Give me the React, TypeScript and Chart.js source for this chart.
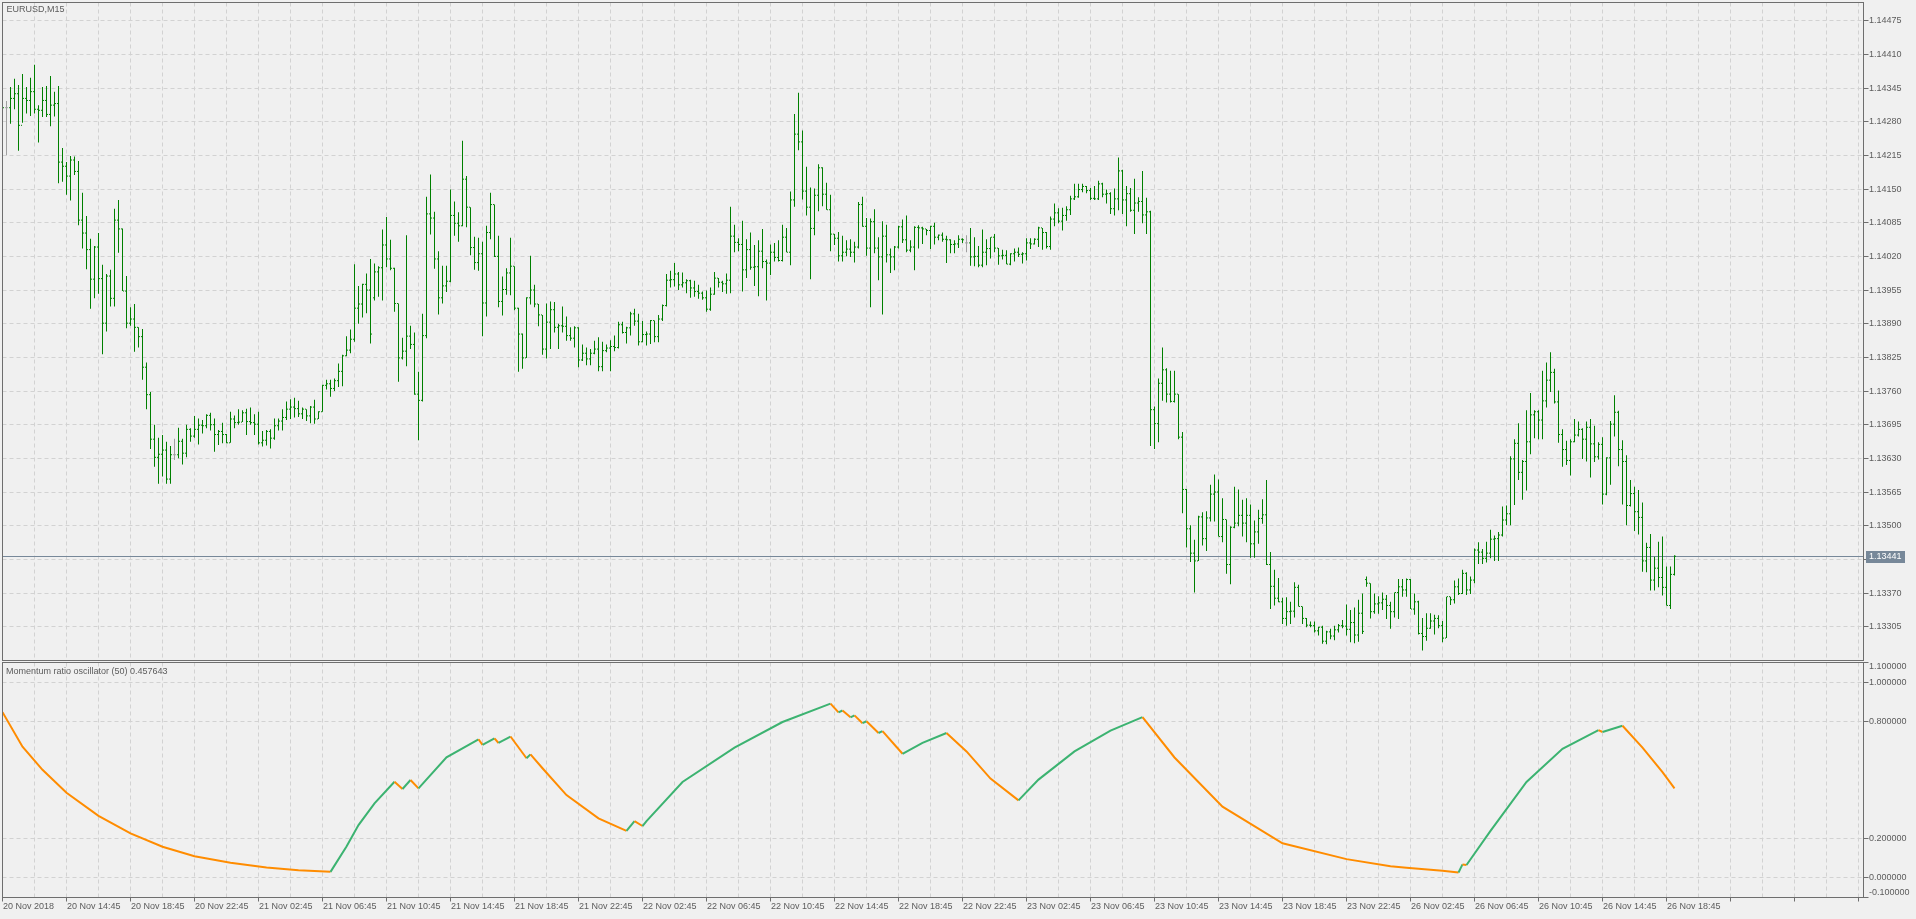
import React, { useEffect, useRef } from "react";
import { Chart, registerables } from "chart.js";

Chart.register(...registerables);

// ---------------- data ----------------
const symbolTitle = "EURUSD,M15";
const oscillatorName = "Momentum ratio oscillator (50)";

const barOpen = [
  1.14296, 1.14307, 1.14307, 1.14325, 1.14334, 1.14273, 1.14325, 1.14321, 1.14338, 1.14304,
  1.14302, 1.14321, 1.14294, 1.14312, 1.14315, 1.14202, 1.14194, 1.14175, 1.14206, 1.14184,
  1.14090, 1.14065, 1.14033, 1.13976, 1.14038, 1.13977, 1.13891, 1.13982, 1.13939, 1.14090,
  1.14073, 1.13953, 1.13891, 1.13899, 1.13883, 1.13865, 1.13806, 1.13753, 1.13667, 1.13632,
  1.13638, 1.13646, 1.13590, 1.13637, 1.13637, 1.13663, 1.13640, 1.13686, 1.13673, 1.13686,
  1.13694, 1.13693, 1.13713, 1.13695, 1.13676, 1.13682, 1.13676, 1.13660, 1.13706, 1.13699,
  1.13700, 1.13718, 1.13701, 1.13699, 1.13696, 1.13660, 1.13665, 1.13682, 1.13669, 1.13693,
  1.13702, 1.13709, 1.13725, 1.13729, 1.13726, 1.13716, 1.13725, 1.13712, 1.13729, 1.13706,
  1.13720, 1.13771, 1.13774, 1.13765, 1.13780, 1.13798, 1.13828, 1.13839, 1.13860, 1.13920,
  1.13928, 1.13966, 1.13955, 1.13940, 1.13990, 1.13998, 1.14042, 1.14015, 1.13997, 1.13929,
  1.13824, 1.13837, 1.13866, 1.13850, 1.13754, 1.13742, 1.13867, 1.14102, 1.14094, 1.14015,
  1.13940, 1.13963, 1.13972, 1.14099, 1.14084, 1.14079, 1.14169, 1.14115, 1.14037, 1.14008,
  1.14025, 1.13930, 1.14066, 1.14120, 1.14020, 1.13933, 1.13956, 1.13988, 1.14001, 1.13920,
  1.13870, 1.13824, 1.13940, 1.13955, 1.13928, 1.13907, 1.13841, 1.13893, 1.13917, 1.13883,
  1.13886, 1.13885, 1.13867, 1.13862, 1.13882, 1.13820, 1.13833, 1.13822, 1.13833, 1.13841,
  1.13807, 1.13838, 1.13843, 1.13846, 1.13844, 1.13888, 1.13873, 1.13882, 1.13909, 1.13895,
  1.13855, 1.13869, 1.13870, 1.13896, 1.13865, 1.13899, 1.13925, 1.13974, 1.13975, 1.13986,
  1.13965, 1.13969, 1.13973, 1.13959, 1.13952, 1.13949, 1.13940, 1.13918, 1.13947, 1.13978,
  1.13970, 1.13967, 1.13974, 1.14059, 1.14047, 1.14043, 1.13994, 1.14033, 1.13999, 1.14000,
  1.14030, 1.14010, 1.14007, 1.14028, 1.14018, 1.14012, 1.14057, 1.14028, 1.14129, 1.14256,
  1.14241, 1.14146, 1.14115, 1.14074, 1.14138, 1.14191, 1.14140, 1.14110, 1.14063, 1.14055,
  1.14021, 1.14028, 1.14034, 1.14028, 1.14038, 1.14120, 1.14078, 1.14036, 1.14087, 1.14036,
  1.14019, 1.14059, 1.14023, 1.14019, 1.14038, 1.14077, 1.14052, 1.14032, 1.14038, 1.14076,
  1.14075, 1.14073, 1.14070, 1.14078, 1.14057, 1.14061, 1.14053, 1.14052, 1.14043, 1.14044,
  1.14053, 1.14046, 1.14046, 1.14019, 1.14020, 1.14003, 1.14028, 1.14035, 1.14057, 1.14036,
  1.14021, 1.14022, 1.14005, 1.14025, 1.14028, 1.14024, 1.14025, 1.14046, 1.14044, 1.14053,
  1.14075, 1.14066, 1.14039, 1.14092, 1.14104, 1.14088, 1.14099, 1.14110, 1.14131, 1.14135,
  1.14149, 1.14155, 1.14147, 1.14132, 1.14131, 1.14160, 1.14140, 1.14141, 1.14112, 1.14131,
  1.14185, 1.14129, 1.14141, 1.14109, 1.14123, 1.14126, 1.14100, 1.14106, 1.13724, 1.13697,
  1.13775, 1.13801, 1.13754, 1.13740, 1.13754, 1.13671, 1.13570, 1.13494, 1.13447, 1.13432,
  1.13517, 1.13475, 1.13515, 1.13561, 1.13565, 1.13479, 1.13512, 1.13425, 1.13497, 1.13505,
  1.13520, 1.13505, 1.13520, 1.13465, 1.13488, 1.13514, 1.13521, 1.13425, 1.13383, 1.13360,
  1.13353, 1.13321, 1.13334, 1.13335, 1.13381, 1.13344, 1.13321, 1.13308, 1.13307, 1.13297,
  1.13304, 1.13277, 1.13295, 1.13287, 1.13299, 1.13307, 1.13306, 1.13300, 1.13313, 1.13289,
  1.13331, 1.13396, 1.13389, 1.13334, 1.13349, 1.13351, 1.13358, 1.13346, 1.13334, 1.13371,
  1.13382, 1.13376, 1.13396, 1.13339, 1.13353, 1.13292, 1.13286, 1.13302, 1.13316, 1.13321,
  1.13307, 1.13283, 1.13363, 1.13357, 1.13382, 1.13369, 1.13408, 1.13376, 1.13395, 1.13453,
  1.13449, 1.13437, 1.13447, 1.13474, 1.13475, 1.13482, 1.13511, 1.13523, 1.13629, 1.13659,
  1.13603, 1.13624, 1.13662, 1.13714, 1.13720, 1.13704, 1.13741, 1.13781, 1.13796, 1.13739,
  1.13676, 1.13647, 1.13626, 1.13662, 1.13675, 1.13686, 1.13667, 1.13690, 1.13658, 1.13633,
  1.13657, 1.13561, 1.13631, 1.13696, 1.13719, 1.13647, 1.13624, 1.13539, 1.13562, 1.13527,
  1.13516, 1.13432, 1.13458, 1.13395, 1.13418, 1.13400, 1.13381, 1.13346, 1.13406,
];

const barHigh = [
  1.14318, 1.14320, 1.14347, 1.14363, 1.14351, 1.14372, 1.14347, 1.14365, 1.14390, 1.14312,
  1.14347, 1.14349, 1.14368, 1.14338, 1.14349, 1.14229, 1.14202, 1.14214, 1.14213, 1.14204,
  1.14143, 1.14098, 1.14054, 1.14040, 1.14065, 1.14004, 1.13986, 1.13994, 1.14112, 1.14129,
  1.14074, 1.13982, 1.13922, 1.13928, 1.13883, 1.13880, 1.13815, 1.13758, 1.13695, 1.13670,
  1.13675, 1.13662, 1.13654, 1.13668, 1.13689, 1.13668, 1.13695, 1.13688, 1.13712, 1.13707,
  1.13704, 1.13715, 1.13718, 1.13707, 1.13685, 1.13699, 1.13677, 1.13720, 1.13713, 1.13725,
  1.13723, 1.13726, 1.13728, 1.13715, 1.13720, 1.13683, 1.13685, 1.13686, 1.13707, 1.13707,
  1.13725, 1.13740, 1.13744, 1.13747, 1.13741, 1.13728, 1.13725, 1.13731, 1.13743, 1.13721,
  1.13772, 1.13782, 1.13782, 1.13784, 1.13813, 1.13830, 1.13866, 1.13879, 1.14005, 1.13963,
  1.13967, 1.13987, 1.14015, 1.14006, 1.14001, 1.14072, 1.14096, 1.14052, 1.13998, 1.13929,
  1.13863, 1.14061, 1.13886, 1.13873, 1.13797, 1.13909, 1.14135, 1.14178, 1.14106, 1.14030,
  1.14002, 1.14002, 1.14149, 1.14126, 1.14105, 1.14243, 1.14175, 1.14115, 1.14058, 1.14056,
  1.14048, 1.14079, 1.14143, 1.14120, 1.14060, 1.13981, 1.13997, 1.14056, 1.14001, 1.13921,
  1.13871, 1.13941, 1.14021, 1.13965, 1.13928, 1.13907, 1.13929, 1.13933, 1.13932, 1.13890,
  1.13923, 1.13904, 1.13883, 1.13885, 1.13883, 1.13850, 1.13844, 1.13841, 1.13857, 1.13864,
  1.13855, 1.13850, 1.13858, 1.13867, 1.13894, 1.13894, 1.13884, 1.13913, 1.13919, 1.13909,
  1.13895, 1.13875, 1.13897, 1.13896, 1.13907, 1.13927, 1.13986, 1.13992, 1.14007, 1.13990,
  1.13989, 1.13976, 1.13975, 1.13973, 1.13965, 1.13952, 1.13954, 1.13960, 1.13990, 1.13978,
  1.13973, 1.13987, 1.14116, 1.14081, 1.14055, 1.14089, 1.14053, 1.14066, 1.14042, 1.14051,
  1.14073, 1.14014, 1.14043, 1.14046, 1.14051, 1.14081, 1.14075, 1.14145, 1.14295, 1.14336,
  1.14263, 1.14193, 1.14153, 1.14151, 1.14198, 1.14192, 1.14162, 1.14139, 1.14063, 1.14067,
  1.14060, 1.14051, 1.14053, 1.14048, 1.14125, 1.14135, 1.14094, 1.14093, 1.14111, 1.14057,
  1.14088, 1.14081, 1.14035, 1.14040, 1.14079, 1.14091, 1.14099, 1.14051, 1.14078, 1.14080,
  1.14077, 1.14073, 1.14079, 1.14085, 1.14062, 1.14066, 1.14060, 1.14053, 1.14051, 1.14061,
  1.14055, 1.14061, 1.14075, 1.14057, 1.14040, 1.14072, 1.14053, 1.14057, 1.14063, 1.14036,
  1.14033, 1.14032, 1.14026, 1.14035, 1.14037, 1.14028, 1.14055, 1.14055, 1.14055, 1.14077,
  1.14075, 1.14067, 1.14097, 1.14122, 1.14113, 1.14114, 1.14117, 1.14137, 1.14160, 1.14160,
  1.14160, 1.14156, 1.14152, 1.14156, 1.14166, 1.14162, 1.14149, 1.14144, 1.14151, 1.14211,
  1.14187, 1.14156, 1.14152, 1.14170, 1.14134, 1.14185, 1.14133, 1.14108, 1.13730, 1.13784,
  1.13844, 1.13804, 1.13799, 1.13799, 1.13754, 1.13681, 1.13571, 1.13501, 1.13473, 1.13519,
  1.13526, 1.13528, 1.13579, 1.13599, 1.13589, 1.13553, 1.13512, 1.13499, 1.13575, 1.13570,
  1.13550, 1.13553, 1.13541, 1.13510, 1.13531, 1.13551, 1.13588, 1.13449, 1.13415, 1.13399,
  1.13361, 1.13362, 1.13353, 1.13391, 1.13386, 1.13344, 1.13322, 1.13315, 1.13315, 1.13305,
  1.13307, 1.13297, 1.13301, 1.13307, 1.13310, 1.13318, 1.13348, 1.13337, 1.13342, 1.13357,
  1.13369, 1.13402, 1.13389, 1.13369, 1.13364, 1.13371, 1.13366, 1.13353, 1.13371, 1.13397,
  1.13397, 1.13398, 1.13397, 1.13369, 1.13355, 1.13322, 1.13331, 1.13331, 1.13328, 1.13327,
  1.13316, 1.13363, 1.13363, 1.13394, 1.13398, 1.13415, 1.13410, 1.13402, 1.13456, 1.13468,
  1.13455, 1.13469, 1.13492, 1.13481, 1.13488, 1.13537, 1.13539, 1.13634, 1.13667, 1.13698,
  1.13627, 1.13723, 1.13756, 1.13723, 1.13723, 1.13799, 1.13815, 1.13835, 1.13803, 1.13761,
  1.13686, 1.13664, 1.13667, 1.13706, 1.13701, 1.13688, 1.13701, 1.13706, 1.13693, 1.13661,
  1.13671, 1.13632, 1.13702, 1.13752, 1.13722, 1.13665, 1.13636, 1.13588, 1.13575, 1.13569,
  1.13545, 1.13467, 1.13484, 1.13440, 1.13469, 1.13479, 1.13421, 1.13421, 1.13443,
];

const barLow = [
  1.14288, 1.14215, 1.14276, 1.14304, 1.14224, 1.14278, 1.14296, 1.14291, 1.14296, 1.14240,
  1.14289, 1.14289, 1.14271, 1.14290, 1.14161, 1.14164, 1.14139, 1.14128, 1.14177, 1.14080,
  1.14035, 1.13995, 1.13919, 1.13939, 1.13948, 1.13831, 1.13875, 1.13923, 1.13923, 1.14027,
  1.13953, 1.13881, 1.13886, 1.13836, 1.13844, 1.13782, 1.13725, 1.13648, 1.13614, 1.13581,
  1.13595, 1.13581, 1.13581, 1.13627, 1.13630, 1.13618, 1.13632, 1.13662, 1.13670, 1.13657,
  1.13678, 1.13688, 1.13684, 1.13643, 1.13656, 1.13659, 1.13659, 1.13660, 1.13688, 1.13695,
  1.13700, 1.13675, 1.13695, 1.13675, 1.13657, 1.13653, 1.13655, 1.13649, 1.13666, 1.13684,
  1.13684, 1.13704, 1.13706, 1.13709, 1.13710, 1.13706, 1.13702, 1.13698, 1.13697, 1.13706,
  1.13720, 1.13763, 1.13749, 1.13760, 1.13768, 1.13769, 1.13827, 1.13833, 1.13855, 1.13890,
  1.13902, 1.13910, 1.13852, 1.13935, 1.13942, 1.13935, 1.13999, 1.13993, 1.13913, 1.13778,
  1.13821, 1.13808, 1.13841, 1.13753, 1.13665, 1.13740, 1.13862, 1.14062, 1.13996, 1.13908,
  1.13929, 1.13951, 1.13970, 1.14060, 1.14048, 1.14078, 1.14076, 1.14022, 1.13994, 1.13992,
  1.13866, 1.13904, 1.14053, 1.14019, 1.13922, 1.13906, 1.13946, 1.13945, 1.13916, 1.13797,
  1.13803, 1.13824, 1.13927, 1.13922, 1.13885, 1.13830, 1.13823, 1.13841, 1.13873, 1.13841,
  1.13873, 1.13857, 1.13857, 1.13844, 1.13806, 1.13818, 1.13810, 1.13810, 1.13831, 1.13798,
  1.13798, 1.13835, 1.13798, 1.13837, 1.13842, 1.13871, 1.13852, 1.13867, 1.13886, 1.13848,
  1.13854, 1.13848, 1.13851, 1.13854, 1.13854, 1.13895, 1.13923, 1.13960, 1.13962, 1.13955,
  1.13960, 1.13949, 1.13940, 1.13942, 1.13938, 1.13936, 1.13913, 1.13915, 1.13946, 1.13960,
  1.13951, 1.13948, 1.13949, 1.14028, 1.14030, 1.13952, 1.13978, 1.13994, 1.13963, 1.13943,
  1.13997, 1.13935, 1.13984, 1.14010, 1.14010, 1.14010, 1.14028, 1.14003, 1.14116, 1.14225,
  1.14130, 1.14099, 1.13976, 1.14061, 1.14107, 1.14117, 1.14110, 1.14030, 1.14042, 1.14010,
  1.14010, 1.14020, 1.14019, 1.14008, 1.14035, 1.14077, 1.14021, 1.13922, 1.14026, 1.13974,
  1.13908, 1.14008, 1.13988, 1.13993, 1.14035, 1.14046, 1.14028, 1.14028, 1.13993, 1.14035,
  1.14044, 1.14061, 1.14034, 1.14043, 1.14051, 1.14048, 1.14007, 1.14026, 1.14026, 1.14036,
  1.14046, 1.14028, 1.14002, 1.14001, 1.13999, 1.13999, 1.14003, 1.14016, 1.14028, 1.14004,
  1.14014, 1.14005, 1.14003, 1.14010, 1.14019, 1.14006, 1.14012, 1.14034, 1.14043, 1.14038,
  1.14033, 1.14035, 1.14033, 1.14078, 1.14084, 1.14070, 1.14089, 1.14100, 1.14129, 1.14133,
  1.14144, 1.14142, 1.14129, 1.14129, 1.14129, 1.14134, 1.14122, 1.14102, 1.14099, 1.14109,
  1.14102, 1.14078, 1.14106, 1.14063, 1.14106, 1.14084, 1.14063, 1.13654, 1.13648, 1.13661,
  1.13741, 1.13738, 1.13738, 1.13738, 1.13667, 1.13524, 1.13458, 1.13430, 1.13371, 1.13432,
  1.13462, 1.13451, 1.13508, 1.13508, 1.13479, 1.13468, 1.13407, 1.13387, 1.13495, 1.13499,
  1.13479, 1.13468, 1.13438, 1.13438, 1.13465, 1.13504, 1.13424, 1.13339, 1.13346, 1.13352,
  1.13310, 1.13307, 1.13310, 1.13323, 1.13344, 1.13310, 1.13304, 1.13304, 1.13294, 1.13288,
  1.13272, 1.13271, 1.13281, 1.13279, 1.13294, 1.13302, 1.13288, 1.13275, 1.13273, 1.13276,
  1.13291, 1.13382, 1.13321, 1.13330, 1.13330, 1.13337, 1.13320, 1.13301, 1.13323, 1.13320,
  1.13363, 1.13363, 1.13339, 1.13328, 1.13290, 1.13259, 1.13278, 1.13301, 1.13290, 1.13302,
  1.13275, 1.13283, 1.13347, 1.13350, 1.13366, 1.13368, 1.13366, 1.13368, 1.13389, 1.13426,
  1.13426, 1.13429, 1.13437, 1.13432, 1.13432, 1.13479, 1.13501, 1.13501, 1.13540, 1.13588,
  1.13550, 1.13568, 1.13638, 1.13669, 1.13667, 1.13667, 1.13728, 1.13758, 1.13736, 1.13660,
  1.13614, 1.13617, 1.13597, 1.13661, 1.13672, 1.13629, 1.13624, 1.13593, 1.13623, 1.13628,
  1.13541, 1.13559, 1.13579, 1.13672, 1.13615, 1.13541, 1.13501, 1.13537, 1.13490, 1.13483,
  1.13411, 1.13410, 1.13375, 1.13375, 1.13381, 1.13365, 1.13346, 1.13339, 1.13404,
];

const barClose = [
  1.14307, 1.14307, 1.14325, 1.14334, 1.14273, 1.14325, 1.14321, 1.14338, 1.14304, 1.14302,
  1.14321, 1.14294, 1.14312, 1.14315, 1.14202, 1.14194, 1.14175, 1.14206, 1.14184, 1.14090,
  1.14065, 1.14033, 1.13976, 1.14038, 1.13977, 1.13891, 1.13982, 1.13939, 1.14090, 1.14073,
  1.13953, 1.13891, 1.13899, 1.13883, 1.13865, 1.13806, 1.13753, 1.13667, 1.13632, 1.13638,
  1.13646, 1.13590, 1.13637, 1.13637, 1.13663, 1.13640, 1.13686, 1.13673, 1.13686, 1.13694,
  1.13693, 1.13713, 1.13695, 1.13676, 1.13682, 1.13676, 1.13660, 1.13706, 1.13699, 1.13700,
  1.13718, 1.13701, 1.13699, 1.13696, 1.13660, 1.13665, 1.13682, 1.13669, 1.13693, 1.13702,
  1.13709, 1.13725, 1.13729, 1.13726, 1.13716, 1.13725, 1.13712, 1.13729, 1.13706, 1.13720,
  1.13771, 1.13774, 1.13765, 1.13780, 1.13798, 1.13828, 1.13839, 1.13860, 1.13920, 1.13928,
  1.13966, 1.13955, 1.13870, 1.13990, 1.13998, 1.14042, 1.14015, 1.13997, 1.13929, 1.13824,
  1.13837, 1.13866, 1.13850, 1.13754, 1.13742, 1.13867, 1.14102, 1.14094, 1.14015, 1.13940,
  1.13963, 1.13972, 1.14099, 1.14084, 1.14079, 1.14169, 1.14115, 1.14037, 1.14008, 1.14025,
  1.13930, 1.14066, 1.14120, 1.14020, 1.13933, 1.13956, 1.13988, 1.14001, 1.13920, 1.13870,
  1.13824, 1.13940, 1.13955, 1.13928, 1.13907, 1.13841, 1.13893, 1.13917, 1.13883, 1.13886,
  1.13885, 1.13867, 1.13862, 1.13882, 1.13820, 1.13833, 1.13822, 1.13833, 1.13841, 1.13807,
  1.13838, 1.13843, 1.13846, 1.13844, 1.13888, 1.13873, 1.13882, 1.13909, 1.13895, 1.13855,
  1.13869, 1.13870, 1.13896, 1.13865, 1.13899, 1.13925, 1.13974, 1.13975, 1.13986, 1.13965,
  1.13969, 1.13973, 1.13959, 1.13952, 1.13949, 1.13940, 1.13918, 1.13947, 1.13978, 1.13970,
  1.13967, 1.13974, 1.14059, 1.14047, 1.14043, 1.13994, 1.14033, 1.13999, 1.14000, 1.14030,
  1.14010, 1.14007, 1.14028, 1.14018, 1.14012, 1.14057, 1.14028, 1.14129, 1.14256, 1.14241,
  1.14146, 1.14115, 1.14074, 1.14138, 1.14191, 1.14140, 1.14110, 1.14063, 1.14055, 1.14021,
  1.14028, 1.14034, 1.14028, 1.14038, 1.14120, 1.14078, 1.14036, 1.14087, 1.14036, 1.14019,
  1.14059, 1.14023, 1.14019, 1.14038, 1.14077, 1.14052, 1.14032, 1.14038, 1.14076, 1.14075,
  1.14073, 1.14070, 1.14078, 1.14057, 1.14061, 1.14053, 1.14052, 1.14043, 1.14044, 1.14053,
  1.14052, 1.14046, 1.14019, 1.14020, 1.14003, 1.14028, 1.14035, 1.14057, 1.14036, 1.14021,
  1.14022, 1.14005, 1.14025, 1.14028, 1.14024, 1.14025, 1.14046, 1.14044, 1.14053, 1.14075,
  1.14066, 1.14039, 1.14092, 1.14104, 1.14088, 1.14099, 1.14110, 1.14131, 1.14135, 1.14149,
  1.14155, 1.14147, 1.14132, 1.14131, 1.14160, 1.14140, 1.14141, 1.14112, 1.14131, 1.14185,
  1.14129, 1.14141, 1.14109, 1.14123, 1.14126, 1.14100, 1.14106, 1.13724, 1.13697, 1.13775,
  1.13801, 1.13754, 1.13740, 1.13754, 1.13671, 1.13570, 1.13494, 1.13447, 1.13432, 1.13517,
  1.13475, 1.13515, 1.13561, 1.13565, 1.13479, 1.13512, 1.13425, 1.13497, 1.13505, 1.13520,
  1.13505, 1.13520, 1.13465, 1.13488, 1.13514, 1.13521, 1.13425, 1.13383, 1.13360, 1.13353,
  1.13321, 1.13334, 1.13335, 1.13381, 1.13344, 1.13321, 1.13308, 1.13307, 1.13297, 1.13304,
  1.13277, 1.13295, 1.13287, 1.13299, 1.13307, 1.13306, 1.13300, 1.13313, 1.13289, 1.13331,
  1.13296, 1.13389, 1.13334, 1.13349, 1.13351, 1.13358, 1.13346, 1.13334, 1.13371, 1.13382,
  1.13376, 1.13396, 1.13339, 1.13353, 1.13292, 1.13286, 1.13302, 1.13316, 1.13321, 1.13307,
  1.13283, 1.13363, 1.13357, 1.13382, 1.13369, 1.13408, 1.13376, 1.13395, 1.13453, 1.13449,
  1.13437, 1.13447, 1.13474, 1.13475, 1.13482, 1.13511, 1.13523, 1.13629, 1.13659, 1.13603,
  1.13624, 1.13662, 1.13714, 1.13720, 1.13704, 1.13741, 1.13781, 1.13796, 1.13739, 1.13676,
  1.13647, 1.13626, 1.13662, 1.13675, 1.13686, 1.13667, 1.13690, 1.13658, 1.13633, 1.13657,
  1.13561, 1.13631, 1.13696, 1.13719, 1.13647, 1.13624, 1.13539, 1.13562, 1.13527, 1.13516,
  1.13432, 1.13458, 1.13395, 1.13418, 1.13400, 1.13381, 1.13346, 1.13406, 1.13441,
];

// oscillator readings: bar number and value
const oscBar = [
  0, 5, 10, 16, 24, 32, 40, 48, 57, 66, 74, 82, 86, 89, 93, 98, 100, 102, 104, 111,
  119, 120, 123, 124, 127, 131, 132, 135, 141, 149, 156, 158, 160, 161, 170, 183, 195, 207, 209, 210,
  212, 213, 215, 216, 219, 220, 225, 230, 236, 241, 247, 254, 259, 268, 277, 285, 293, 305, 320, 336,
  347, 351, 360, 364, 365, 366, 372, 381, 390, 399, 400, 405, 410, 415, 418,
];
const oscValue = [
  0.846, 0.67, 0.552, 0.435, 0.317, 0.227, 0.159, 0.111, 0.077, 0.053, 0.039, 0.031, 0.16, 0.27, 0.381, 0.491, 0.454, 0.5, 0.457, 0.616,
  0.708, 0.679, 0.713, 0.689, 0.722, 0.611, 0.631, 0.56, 0.423, 0.304, 0.24, 0.29, 0.265, 0.29, 0.49, 0.665, 0.796, 0.89, 0.845, 0.855,
  0.82, 0.83, 0.79, 0.8, 0.74, 0.75, 0.634, 0.69, 0.74, 0.646, 0.507, 0.396, 0.502, 0.646, 0.752, 0.821, 0.615, 0.364, 0.177, 0.096,
  0.06, 0.052, 0.036, 0.028, 0.069, 0.066, 0.24, 0.49, 0.659, 0.755, 0.745, 0.777, 0.665, 0.54, 0.457643,
];

const priceTicks = [
  1.14475, 1.1441, 1.14345, 1.1428, 1.14215, 1.1415, 1.14085, 1.1402, 1.13955, 1.1389,
  1.13825, 1.1376, 1.13695, 1.1363, 1.13565, 1.135, 1.13435, 1.1337, 1.13305,
];
const oscTicks = [1.1, 1.0, 0.8, 0.2, 0.0, -0.1];
const timeLabels = [
  "20 Nov 2018", "20 Nov 14:45", "20 Nov 18:45", "20 Nov 22:45", "21 Nov 02:45", "21 Nov 06:45",
  "21 Nov 10:45", "21 Nov 14:45", "21 Nov 18:45", "21 Nov 22:45", "22 Nov 02:45", "22 Nov 06:45",
  "22 Nov 10:45", "22 Nov 14:45", "22 Nov 18:45", "22 Nov 22:45", "23 Nov 02:45", "23 Nov 06:45",
  "23 Nov 10:45", "23 Nov 14:45", "23 Nov 18:45", "23 Nov 22:45", "26 Nov 02:45", "26 Nov 06:45",
  "26 Nov 10:45", "26 Nov 14:45", "26 Nov 18:45",
];

// ---------------- layout & style ----------------
const PAGE_W = 1916;
const PAGE_H = 919;
const MAIN_H = 662;
const OSC_TOP = 662;
const OSC_H = PAGE_H - OSC_TOP;
const PLOT_LEFT = 2.5;
const PLOT_RIGHT = 1863.5;
const AXIS_W = PAGE_W - PLOT_RIGHT;
const MAIN_PLOT_TOP = 2.5;
const MAIN_PLOT_BOTTOM = 660.5;
const OSC_PLOT_TOP = 0.5;
const OSC_PLOT_BOTTOM = 235.5;
const BAR_PX = 4;
const X_MAX = (PLOT_RIGHT - PLOT_LEFT) / BAR_PX;
const TICK_SHIFT = 1 / BAR_PX;
const GRID_EVERY = 8;
const LABEL_EVERY = 16;
const PRICE_MIN = 1.1323974;
const PRICE_MAX = 1.1451014;
const OSC_MIN = -0.1;
const OSC_MAX = 1.1;
const EDGE_INSET = 0.023;

const BG = "#f0f0f0";
const FRAME = "#6e6e6e";
const GRID = "#d2d2d2";
const TEXT = "#5c5c5c";
const BAR_GREEN = "#008000";
const BAR_DOJI = "#a0a0a0";
const OSC_UP = "#3cb371";
const OSC_DOWN = "#ff8c00";
const BID_LINE = "#778899";
const CLEAR = "rgba(0,0,0,0)";
const FONT_FAMILY = '"Liberation Sans", Arial, sans-serif';
const FONT = { family: FONT_FAMILY, size: 9 };
const DASH = [4, 3];

function noAutoPadding(s: any) {
  s.paddingTop = 0;
  s.paddingBottom = 0;
  s.paddingLeft = 0;
  s.paddingRight = 0;
}

function gridTicks(scale: any) {
  const t: any[] = [];
  for (let v = 0; v <= scale.max; v += GRID_EVERY) t.push({ value: v });
  scale.ticks = t;
}

const framePlugin = {
  id: "panelFrame",
  afterDatasetsDraw(chart: any) {
    const { ctx, chartArea: a } = chart;
    ctx.save();
    ctx.strokeStyle = FRAME;
    ctx.lineWidth = 1;
    ctx.strokeRect(a.left, a.top, a.right - a.left, a.bottom - a.top);
    ctx.restore();
  },
};

function mainConfig(): any {
  const barColors = barClose.map((c, i) => (c === barOpen[i] ? BAR_DOJI : BAR_GREEN));
  const lastClose = barClose[barClose.length - 1];
  const bidPlugin = {
    id: "bidLine",
    beforeDatasetsDraw(chart: any) {
      const { ctx, chartArea: a, scales } = chart;
      const y = Math.floor(scales.y.getPixelForValue(lastClose)) + 0.5;
      ctx.save();
      ctx.strokeStyle = BID_LINE;
      ctx.lineWidth = 1;
      ctx.beginPath();
      ctx.moveTo(a.left, y);
      ctx.lineTo(a.right, y);
      ctx.stroke();
      ctx.restore();
    },
    afterDraw(chart: any) {
      const { ctx, chartArea: a, scales } = chart;
      const y = Math.floor(scales.y.getPixelForValue(lastClose)) + 0.5;
      ctx.save();
      ctx.fillStyle = BID_LINE;
      ctx.fillRect(a.right + 2.5, y - 5.5, 39, 12);
      ctx.font = `9px ${FONT_FAMILY}`;
      ctx.textBaseline = "middle";
      ctx.textAlign = "left";
      ctx.fillStyle = "#ffffff";
      ctx.fillText(lastClose.toFixed(5), a.right + 5.5, y + 0.5);
      ctx.fillStyle = TEXT;
      ctx.fillText(symbolTitle, 6.5, 9.5);
      ctx.restore();
    },
  };

  return {
    type: "line",
    data: {
      datasets: [
        {
          type: "bar",
          data: barHigh.map((h, i) => ({ x: i, y: [barLow[i], h] })),
          backgroundColor: barColors,
          borderWidth: 0,
          barThickness: 1,
          inflateAmount: 0,
          grouped: false,
          order: 2,
        },
        {
          type: "line",
          data: barOpen.map((o, i) => ({ x: i - TICK_SHIFT, y: o })),
          showLine: false,
          pointStyle: "line",
          pointRadius: 0.5,
          pointBorderWidth: 1,
          pointBorderColor: barColors,
          pointBackgroundColor: barColors,
          order: 1,
        },
        {
          type: "line",
          data: barClose.map((c, i) => ({ x: i + TICK_SHIFT, y: c })),
          showLine: false,
          pointStyle: "line",
          pointRadius: 0.5,
          pointBorderWidth: 1,
          pointBorderColor: barColors,
          pointBackgroundColor: barColors,
          order: 1,
        },
      ],
    },
    options: {
      responsive: false,
      animation: false,
      devicePixelRatio: 1,
      events: [],
      layout: {
        autoPadding: false,
        padding: { left: PLOT_LEFT, top: MAIN_PLOT_TOP, right: 0, bottom: MAIN_H - MAIN_PLOT_BOTTOM },
      },
      plugins: { legend: { display: false }, tooltip: { enabled: false } },
      scales: {
        x: {
          type: "linear",
          min: 0,
          max: X_MAX,
          offset: false,
          afterFit: (s: any) => { s.height = 0; noAutoPadding(s); },
          afterBuildTicks: gridTicks,
          ticks: { display: false, autoSkip: false },
          grid: { color: GRID, drawTicks: false, offset: false },
          border: { display: false, dash: DASH },
        },
        y: {
          type: "linear",
          position: "right",
          min: PRICE_MIN,
          max: PRICE_MAX,
          afterFit: (s: any) => { s.width = AXIS_W; noAutoPadding(s); },
          afterBuildTicks: (s: any) => { s.ticks = priceTicks.map((v) => ({ value: v })); },
          ticks: {
            autoSkip: false,
            padding: 0.5,
            font: FONT,
            color: TEXT,
            callback: (v: any) => Number(v).toFixed(5),
          },
          grid: { color: GRID, tickLength: 5, tickColor: FRAME, drawTicks: true },
          border: { display: false, dash: DASH },
        },
      },
    },
    plugins: [bidPlugin, framePlugin],
  };
}

function oscConfig(): any {
  const lastValue = oscValue[oscValue.length - 1];
  const titlePlugin = {
    id: "oscTitle",
    afterDraw(chart: any) {
      const { ctx } = chart;
      ctx.save();
      ctx.font = `9px ${FONT_FAMILY}`;
      ctx.textBaseline = "middle";
      ctx.textAlign = "left";
      ctx.fillStyle = TEXT;
      ctx.fillText(`${oscillatorName} ${lastValue.toFixed(6)}`, 6, 9.7);
      ctx.restore();
    },
  };

  return {
    type: "line",
    data: {
      datasets: [
        {
          data: oscBar.map((b, k) => ({ x: b, y: oscValue[k] })),
          borderColor: OSC_DOWN,
          borderWidth: 2,
          pointRadius: 0,
          tension: 0,
          segment: {
            borderColor: (c: any) => (c.p1.parsed.y > c.p0.parsed.y ? OSC_UP : OSC_DOWN),
          },
        },
      ],
    },
    options: {
      responsive: false,
      animation: false,
      devicePixelRatio: 1,
      events: [],
      layout: {
        autoPadding: false,
        padding: { left: PLOT_LEFT, top: OSC_PLOT_TOP, right: 0, bottom: 0 },
      },
      plugins: { legend: { display: false }, tooltip: { enabled: false } },
      scales: {
        x: {
          type: "linear",
          min: 0,
          max: X_MAX,
          offset: false,
          afterFit: (s: any) => { s.height = OSC_H - OSC_PLOT_BOTTOM; noAutoPadding(s); },
          afterBuildTicks: gridTicks,
          ticks: {
            autoSkip: false,
            maxRotation: 0,
            minRotation: 0,
            align: "start",
            padding: 0,
            labelOffset: 0.5,
            font: FONT,
            color: TEXT,
            callback: (v: any) => {
              const n = Number(v);
              return n % LABEL_EVERY === 0 ? timeLabels[n / LABEL_EVERY] || "" : "";
            },
          },
          grid: {
            color: GRID,
            offset: false,
            tickLength: 4,
            tickColor: (c: any) => (c.tick && c.tick.value % LABEL_EVERY === 0 ? FRAME : CLEAR),
          },
          border: { display: false, dash: DASH },
        },
        y: {
          type: "linear",
          position: "right",
          min: OSC_MIN,
          max: OSC_MAX,
          afterFit: (s: any) => { s.width = AXIS_W; noAutoPadding(s); },
          afterBuildTicks: (s: any) => {
            const t: any[] = [];
            oscTicks.forEach((v, k) => {
              const edge = k === 0 || k === oscTicks.length - 1;
              t.push({ value: v, kind: edge ? "edge" : "main" });
              if (edge) {
                t.push({ value: k === 0 ? v - EDGE_INSET : v + EDGE_INSET, kind: "label", text: v.toFixed(6) });
              }
            });
            s.ticks = t.sort((a, b) => a.value - b.value);
          },
          ticks: {
            autoSkip: false,
            padding: 0.5,
            font: FONT,
            color: TEXT,
            callback: (v: any, i: number, ts: any[]) => {
              const t = ts[i];
              if (t.kind === "main") return Number(v).toFixed(6);
              if (t.kind === "label") return t.text;
              return "";
            },
          },
          grid: {
            color: (c: any) => (c.tick && c.tick.kind === "main" ? GRID : CLEAR),
            tickColor: (c: any) => (c.tick && c.tick.kind !== "label" ? FRAME : CLEAR),
            tickLength: 5,
          },
          border: { display: false, dash: DASH },
        },
      },
    },
    plugins: [titlePlugin, framePlugin],
  };
}

export default function App() {
  const mainRef = useRef<HTMLCanvasElement | null>(null);
  const oscRef = useRef<HTMLCanvasElement | null>(null);

  useEffect(() => {
    document.body.style.margin = "0";
    document.body.style.background = BG;
    const main = new Chart(mainRef.current as HTMLCanvasElement, mainConfig());
    const osc = new Chart(oscRef.current as HTMLCanvasElement, oscConfig());
    return () => {
      main.destroy();
      osc.destroy();
    };
  }, []);

  return (
    <div
      style={{
        position: "fixed",
        left: 0,
        top: 0,
        width: PAGE_W,
        height: PAGE_H,
        background: BG,
        overflow: "hidden",
      }}
    >
      <canvas
        ref={mainRef}
        width={PAGE_W}
        height={MAIN_H}
        style={{ position: "absolute", left: 0, top: 0, width: PAGE_W, height: MAIN_H }}
      />
      <canvas
        ref={oscRef}
        width={PAGE_W}
        height={OSC_H}
        style={{ position: "absolute", left: 0, top: OSC_TOP, width: PAGE_W, height: OSC_H }}
      />
    </div>
  );
}
